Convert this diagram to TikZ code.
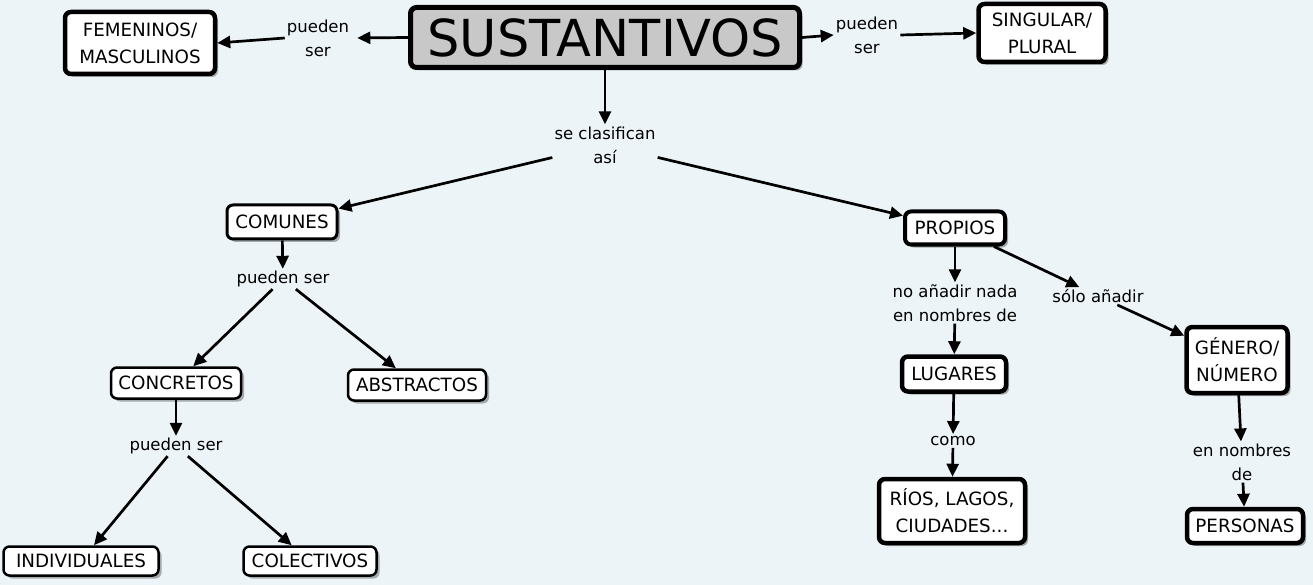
\documentclass[tikz,border=0pt]{standalone}
\usepackage{fontspec}
\setmainfont{DejaVu Sans}
\usetikzlibrary{arrows.meta,shadows}
\definecolor{bgc}{RGB}{237,244,247}
\definecolor{susfill}{RGB}{200,200,200}
\newcommand\myboxfont{\fontsize{18.3}{27}\selectfont}
\newcommand\mylabfont{\fontsize{16.5}{24}\selectfont}
\newcommand\mysusfont{\fontsize{51}{60}\selectfont}
\begin{document}
\begin{tikzpicture}[x=1pt,y=-1pt,
  box/.style={draw=black, fill=white, rounded corners=6pt, align=center, inner sep=0pt, font=\myboxfont,
    drop shadow={shadow xshift=3pt, shadow yshift=-3pt, fill=black, opacity=0.3}},
  thinbox/.style={box, line width=2.5pt},
  thickbox/.style={box, line width=4.5pt},
  lab/.style={align=center, inner sep=2pt, font=\mylabfont},
  arr/.style={line width=2.7pt, -{Triangle[length=13pt,width=12pt]}}]
\fill[bgc] (0,0) rectangle (1313,585);
\useasboundingbox (0,0) rectangle (1313,585);

% boxes
\node[thickbox, line width=5pt, fill=susfill, font=\mysusfont, minimum width=389pt, minimum height=60pt] (sus) at (605,37.5) {SUSTANTIVOS};
\node[thickbox, minimum width=150pt, minimum height=62pt] (fem) at (140,43) {FEMENINOS/\\MASCULINOS};
\node[thickbox, minimum width=127pt, minimum height=58pt] (sing) at (1042,33) {SINGULAR/\\PLURAL};
\node[thinbox, line width=3pt, minimum width=110pt, minimum height=34pt] (com) at (282,222) {COMUNES};
\node[thinbox, minimum width=130pt, minimum height=31pt] (con) at (176,383) {CONCRETOS};
\node[thinbox, minimum width=138pt, minimum height=31pt] (abs) at (417,385) {ABSTRACTOS};
\node[thinbox, minimum width=155pt, minimum height=29pt] (ind) at (81,561) {INDIVIDUALES};
\node[thinbox, minimum width=133pt, minimum height=29pt] (col) at (310,561) {COLECTIVOS};
\node[thickbox, line width=4pt, minimum width=100pt, minimum height=33pt] (prop) at (955,228) {PROPIOS};
\node[thickbox, minimum width=104pt, minimum height=35pt] (lug) at (954,374) {LUGARES};
\node[thickbox, minimum width=146pt, minimum height=64pt] (rios) at (952,511) {RÍOS, LAGOS,\\CIUDADES...};
\node[thickbox, minimum width=101pt, minimum height=66pt] (gen) at (1237,360) {GÉNERO/\\NÚMERO};
\node[thickbox, minimum width=116pt, minimum height=34pt] (pers) at (1245,526) {PERSONAS};

% labels
\node[lab] (pl) at (318,38) {pueden\\ser};
\node[lab] (pr) at (867,35) {pueden\\ser};
\node[lab] (clas) at (605,145) {se clasifican\\así};
\node[lab] (ps1) at (283,279) {pueden ser};
\node[lab] (ps2) at (176,446) {pueden ser};
\node[lab] (noa) at (955,303) {no añadir nada\\en nombres de};
\node[lab] (solo) at (1098,296) {sólo añadir};
\node[lab] (como) at (953,441) {como};
\node[lab] (enn) at (1242,462) {en nombres\\de};

% connectors
\draw[arr, shorten >=6pt] (sus.west) -- (pl.east);
\draw[arr] (pl.west) -- (fem.east);
\draw[arr] (sus.east) -- (pr.west);
\draw[arr] (pr.east) -- (sing.west);
\draw[arr] (sus) -- (clas);
\draw[arr] (clas) -- (com);
\draw[arr] (clas) -- (prop);
\draw[arr] (com) -- (ps1);
\draw[arr] (ps1) -- (con);
\draw[arr] (ps1) -- (abs);
\draw[arr] (con) -- (ps2);
\draw[arr] (ps2) -- (ind);
\draw[arr] (ps2) -- (col);
\draw[arr] (prop) -- (noa);
\draw[arr] (noa) -- (lug);
\draw[arr] (lug) -- (como);
\draw[arr] (como) -- (rios);
\draw[arr] (prop) -- (solo);
\draw[arr] (solo) -- (gen);
\draw[arr] (gen) -- (enn);
\draw[arr] (enn) -- (pers);
\end{tikzpicture}
\end{document}
